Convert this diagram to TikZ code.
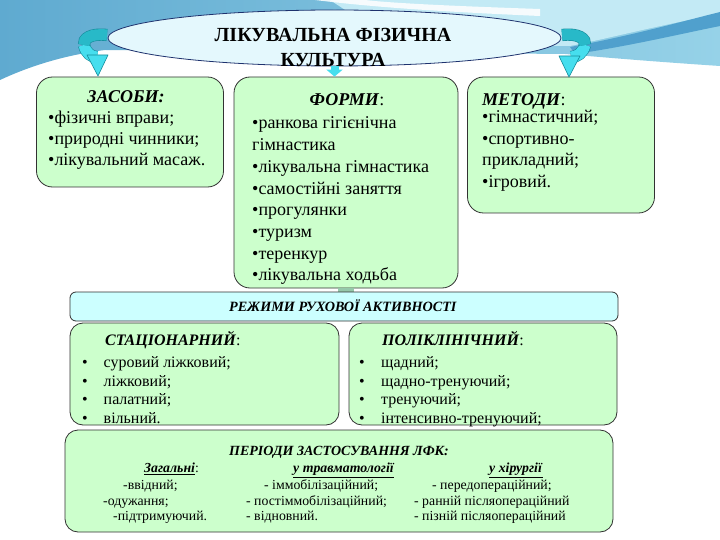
\documentclass[tikz,border=0pt]{standalone}
\usepackage{fontspec}
\setmainfont{Liberation Serif}
\usetikzlibrary{arrows.meta,shapes.geometric}
\definecolor{bgA}{RGB}{95,170,208}
\definecolor{bgB}{RGB}{150,210,232}
\definecolor{bgC}{RGB}{195,234,245}
\definecolor{bgD}{RGB}{80,160,205}
\definecolor{gfill}{RGB}{204,255,204}
\definecolor{cfill}{RGB}{204,255,255}
\definecolor{ellfill}{RGB}{228,248,253}
\definecolor{ellline}{RGB}{30,50,110}
\definecolor{boxline}{RGB}{50,50,50}
\definecolor{arrC}{RGB}{70,222,238}
\definecolor{arrB}{RGB}{40,185,200}
\definecolor{arrD}{RGB}{20,140,155}
\definecolor{tabc}{RGB}{150,200,170}
\begin{document}
\begin{tikzpicture}[x=1pt,y=-1pt,
  gbox/.style={draw=boxline, line width=0.8pt, fill=gfill, rounded corners=16pt, inner sep=0pt},
  lbox/.style={draw=boxline, line width=0.8pt, fill=gfill, rounded corners=13pt, inner sep=0pt},
  cbar/.style={draw=boxline, line width=0.8pt, fill=cfill, rounded corners=6pt, inner sep=0pt},
  tl/.style={inner sep=0pt, anchor=base west, font=\fontsize{18}{20}\selectfont},
  tc/.style={inner sep=0pt, anchor=base, font=\fontsize{18}{20}\selectfont},
  sl/.style={inner sep=0pt, anchor=base west, font=\fontsize{16}{18}\selectfont},
  bl/.style={inner sep=0pt, anchor=base west, font=\fontsize{13.8}{15}\selectfont},
  bc/.style={inner sep=0pt, anchor=base, font=\fontsize{14}{15}\selectfont},
  ribbonB/.style={draw=arrD, double=arrB, double distance=11pt, line width=0.6pt},
  ribbonC/.style={draw=arrD, double=arrC, double distance=11pt, line width=0.6pt},
  head/.style={fill=arrC, draw=arrD, line width=0.6pt, line join=round}
]
\useasboundingbox (0,0) rectangle (720,540);
\fill[white] (0,0) rectangle (720,540);
% background
\shade[left color=bgA, right color=bgB]
  (0,0) -- (720,0) -- (720,66) .. controls (660,62) and (610,58) .. (565,54)
  -- (105,50) .. controls (65,55) and (30,66) .. (0,80) -- cycle;
\fill[bgC] (330,0) -- (720,0) -- (720,14) .. controls (660,25) and (610,38) .. (570,46) -- (400,46) -- cycle;
\fill[white, opacity=0.85] (315,0) .. controls (380,8) and (450,12) .. (540,16)
  -- (540,9) .. controls (450,6) and (390,3) .. (365,0) -- cycle;
\fill[bgD] (570,47) .. controls (630,36) and (680,22) .. (720,12)
  -- (720,26) .. controls (680,34) and (630,46) .. (575,54) -- cycle;

% title ellipse
\node[ellipse, draw=ellline, line width=0.8pt, fill=ellfill, minimum width=453pt, minimum height=56pt] (title) at (334.5,38) {};
\node[inner sep=0pt, anchor=base, font=\fontsize{20}{22}\bfseries] (t1) at (333,42) {ЛІКУВАЛЬНА ФІЗИЧНА};
\node[inner sep=0pt, anchor=base, font=\fontsize{20}{22}\bfseries] (t2) at (333,66.5) {КУЛЬТУРА};

% boxes
\node[gbox, minimum width=187pt, minimum height=110pt] (zasobi) at (130,132) {};
\node[gbox, minimum width=224pt, minimum height=211pt] (formy) at (346,182.5) {};
\node[gbox, minimum width=187pt, minimum height=136pt] (metody) at (561,145) {};
\draw[line width=16pt, tabc] (formy.south) -- ++(0,4);
\node[cbar, minimum width=548pt, minimum height=29pt] (rezhymy) at (344,306.5) {};
\node[lbox, minimum width=269pt, minimum height=102pt] (stac) at (204.5,374) {};
\node[lbox, minimum width=268pt, minimum height=102pt] (polikl) at (483,374) {};
\node[lbox, minimum width=548pt, minimum height=102pt] (periody) at (339,481) {};

% arrows
\draw[line width=8pt, arrC, -{Triangle[width=16pt,length=7pt]}] (title.south) -- (title.south |- formy.north);
\coordinate (la0) at (107,35);
\coordinate (la1) at (84,45);
\coordinate (la2) at (97,57);
\coordinate (la3) at (98,76);
\draw[ribbonC] (la1) .. controls (86,53) and (91,57) .. (la2);
\draw[ribbonB] (la0) .. controls (90,33) and (83,39) .. (la1);
\draw[head] (87,55) -- (108,55) -- (la3) -- cycle;
\coordinate (ra0) at (562,35);
\coordinate (ra1) at (585,45);
\coordinate (ra2) at (571,57);
\coordinate (ra3) at (569,77);
\draw[ribbonC] (ra1) .. controls (583,53) and (577,57) .. (ra2);
\draw[ribbonB] (ra0) .. controls (579,33) and (586,39) .. (ra1);
\draw[head] (559,56) -- (580,56) -- (ra3) -- cycle;

% ЗАСОБИ
\node[tc] (zh) at (126,102.5) {\textbf{\textit{ЗАСОБИ:}}};
\foreach \t [count=\i] in {{•фізичні вправи;},{•природні чинники;},{•лікувальний масаж.}}
  \node[tl] (zl\i) at (48,{123.5+21*(\i-1)}) {\t};

% ФОРМИ
\node[tc] (fh) at (347,105.5) {\textbf{\textit{ФОРМИ}}:};
\foreach \t [count=\i] in {{•ранкова гігієнічна},{гімнастика},{•лікувальна гімнастика},{•самостійні заняття},{•прогулянки},{•туризм},{•теренкур},{•лікувальна ходьба}}
  \node[tl] (fl\i) at (252,{129+21.7*(\i-1)}) {\t};

% МЕТОДИ
\node[tl] (mh) at (482,105.5) {\textbf{\textit{МЕТОДИ}}:};
\foreach \t [count=\i] in {{•гімнастичний;},{•спортивно-},{прикладний;},{•ігровий.}}
  \node[tl] (ml\i) at (482,{123+21.5*(\i-1)}) {\t};

% РЕЖИМИ
\node[inner sep=0pt, anchor=base, font=\fontsize{14.2}{16}\selectfont] (rh) at (343,311.5) {\textbf{\textit{РЕЖИМИ РУХОВОЇ АКТИВНОСТІ}}};

% СТАЦІОНАРНИЙ
\node[sl] (sh) at (105,345.5) {\textbf{\textit{СТАЦІОНАРНИЙ}}:};
\foreach \t [count=\i] in {{суровий ліжковий;},{ліжковий;},{палатний;},{вільний.}}{
  \node[sl] (sb\i) at (82,{367.5+18.7*(\i-1)}) {•};
  \node[sl] (st\i) at (103.5,{367.5+18.7*(\i-1)}) {\t};
}

% ПОЛІКЛІНІЧНИЙ
\node[sl] (ph) at (382,345.5) {\textbf{\textit{ПОЛІКЛІНІЧНИЙ}}:};
\foreach \t [count=\i] in {{щадний;},{щадно-тренуючий;},{тренуючий;},{інтенсивно-тренуючий;}}{
  \node[sl] (pb\i) at (359,{367.5+18.7*(\i-1)}) {•};
  \node[sl] (pt\i) at (381,{367.5+18.7*(\i-1)}) {\t};
}

% ПЕРІОДИ
\node[bc] (prh) at (339,455) {\textbf{\textit{ПЕРІОДИ ЗАСТОСУВАННЯ ЛФК:}}};
\node[bl] (pc1) at (144,472.5) {\underline{\textbf{\textit{Загальні}}}:};
\node[bl] (pc2) at (293,472.5) {\underline{\textbf{\textit{у травматології}}}};
\node[bl] (pc3) at (489,472.5) {\underline{\textbf{\textit{у хірургії}}}};
\node[bl] (a1) at (123,489) {-ввідний;};
\node[bl] (a2) at (103,505) {-одужання;};
\node[bl] (a3) at (113,520.5) {-підтримуючий.};
\node[bl] (b1) at (264,489) {- іммобілізаційний;};
\node[bl] (b2) at (246,505) {- постіммобілізаційний;};
\node[bl] (b3) at (246,520.5) {- відновний.};
\node[bl] (c1) at (432,489) {- передопераційний;};
\node[bl] (c2) at (414,505) {- ранній післяопераційний};
\node[bl] (c3) at (414,520.5) {- пізній післяопераційний};
\end{tikzpicture}
\end{document}
